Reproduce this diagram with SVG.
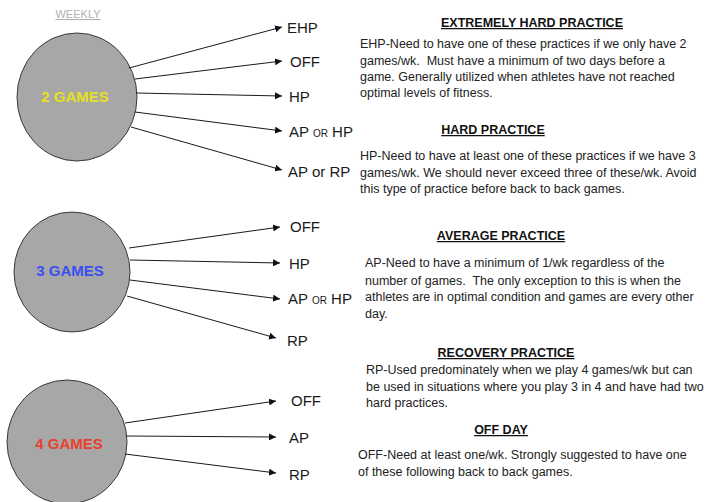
<svg xmlns="http://www.w3.org/2000/svg" width="708" height="502" viewBox="0 0 708 502">
<defs>
<marker id="ah" viewBox="0 0 10 10" refX="10" refY="5" markerWidth="7" markerHeight="7" markerUnits="userSpaceOnUse" orient="auto">
<path d="M0,0 L10,5 L0,10 z" fill="#111"/>
</marker>
<style>
.c{fill:#a7a7a7;stroke:#3a3a3a;stroke-width:1}
.g{font-family:"Liberation Sans",Arial,sans-serif;font-weight:bold;font-size:15px;text-anchor:middle}
.l{font-family:"Liberation Sans",Arial,sans-serif;font-size:15px;fill:#1a1a1a}
.sm{font-size:10px}
.e{stroke:#1a1a1a;stroke-width:1;fill:none;marker-end:url(#ah)}
.h{font-family:"Liberation Sans",Arial,sans-serif;font-weight:bold;font-size:12.5px;text-anchor:middle;fill:#111;text-decoration:underline}
.b{font-family:"Liberation Sans",Arial,sans-serif;font-size:12.5px;fill:#222}
</style>
</defs>
<rect width="708" height="502" fill="#fff"/>
<text x="78" y="18" font-family="Liberation Sans,Arial,sans-serif" font-size="11" fill="#b0b0b0" text-anchor="middle" text-decoration="underline">WEEKLY</text>

<g id="n2games">
<ellipse class="c" cx="77" cy="97" rx="60" ry="64"/>
<text class="g" x="75" y="102" fill="#e6e01e">2 GAMES</text>
</g>
<g id="n3games">
<ellipse class="c" cx="72" cy="272" rx="58" ry="60"/>
<text class="g" x="70" y="276" fill="#3a4ff2">3 GAMES</text>
</g>
<g id="n4games">
<ellipse class="c" cx="67" cy="442" rx="60" ry="62"/>
<text class="g" x="69" y="449" fill="#e8402e">4 GAMES</text>
</g>

<g id="connectors">
<line class="e" x1="129" y1="68" x2="282" y2="27"/>
<line class="e" x1="135" y1="79" x2="282" y2="61"/>
<line class="e" x1="136" y1="93" x2="282" y2="96"/>
<line class="e" x1="135" y1="112" x2="282" y2="131"/>
<line class="e" x1="131" y1="127" x2="282" y2="170"/>
<line class="e" x1="129" y1="248" x2="280" y2="227"/>
<line class="e" x1="130" y1="260" x2="280" y2="263"/>
<line class="e" x1="130" y1="280" x2="280" y2="299"/>
<line class="e" x1="127" y1="296" x2="276" y2="338"/>
<line class="e" x1="125" y1="423" x2="276" y2="401"/>
<line class="e" x1="126" y1="436" x2="276" y2="437"/>
<line class="e" x1="125" y1="454" x2="276" y2="473"/>
</g>

<g id="labels2">
<text class="l" x="287" y="33">EHP</text>
<text class="l" x="290" y="67">OFF</text>
<text class="l" x="289" y="102">HP</text>
<text class="l" x="289" y="137">AP <tspan class="sm">OR</tspan> HP</text>
<text class="l" x="288" y="177" fill="#5b6e78">AP or RP</text>
</g>
<g id="labels3">
<text class="l" x="290" y="232">OFF</text>
<text class="l" x="289" y="269">HP</text>
<text class="l" x="288" y="304">AP <tspan class="sm">OR</tspan> HP</text>
<text class="l" x="287" y="346">RP</text>
</g>
<g id="labels4">
<text class="l" x="291" y="406">OFF</text>
<text class="l" x="289" y="443">AP</text>
<text class="l" x="289" y="480">RP</text>
</g>

<g id="ehp">
<text class="h" x="532" y="27">EXTREMELY HARD PRACTICE</text>
<text class="b" x="360" y="48">EHP-Need to have one of these practices if we only have 2</text>
<text class="b" x="360" y="65">games/wk.&#160; Must have a minimum of two days before a</text>
<text class="b" x="360" y="81">game. Generally utilized when athletes have not reached</text>
<text class="b" x="360" y="97">optimal levels of fitness.</text>
</g>
<g id="hp">
<text class="h" x="493" y="134">HARD PRACTICE</text>
<text class="b" x="360" y="160">HP-Need to have at least one of these practices if we have 3</text>
<text class="b" x="360" y="177">games/wk. We should never exceed three of these/wk. Avoid</text>
<text class="b" x="360" y="193">this type of practice before back to back games.</text>
</g>
<g id="ap">
<text class="h" x="501" y="240">AVERAGE PRACTICE</text>
<text class="b" x="365" y="267">AP-Need to have a minimum of 1/wk regardless of the</text>
<text class="b" x="365" y="285">number of games.&#160; The only exception to this is when the</text>
<text class="b" x="365" y="301">athletes are in optimal condition and games are every other</text>
<text class="b" x="365" y="318">day.</text>
</g>
<g id="rp">
<text class="h" x="506" y="357">RECOVERY PRACTICE</text>
<text class="b" x="366" y="374">RP-Used predominately when we play 4 games/wk but can</text>
<text class="b" x="366" y="391">be used in situations where you play 3 in 4 and have had two</text>
<text class="b" x="366" y="407">hard practices.</text>
</g>
<g id="off">
<text class="h" x="501" y="434">OFF DAY</text>
<text class="b" x="358" y="459">OFF-Need at least one/wk. Strongly suggested to have one</text>
<text class="b" x="358" y="476">of these following back to back games.</text>
</g>
</svg>
